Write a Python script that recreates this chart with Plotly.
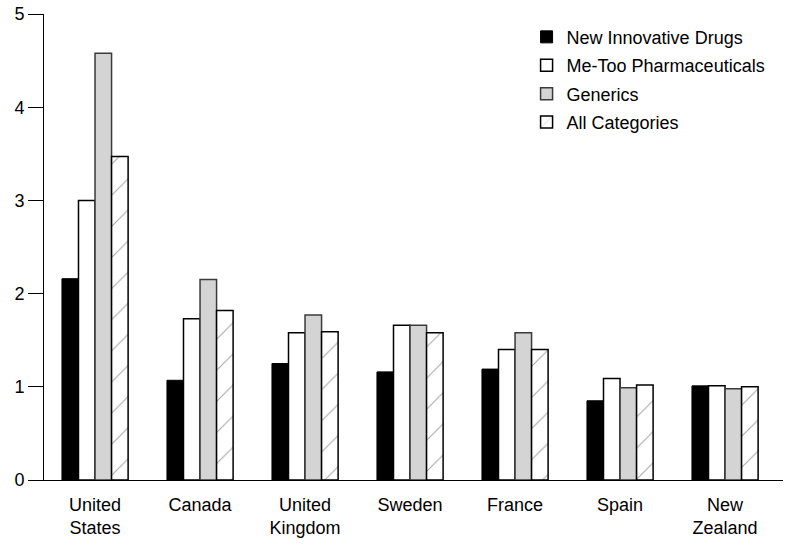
import plotly.graph_objects as go

# Countries along the x axis
countries = ["United<br>States", "Canada", "United<br>Kingdom", "Sweden",
             "France", "Spain", "New<br>Zealand"]

# Price index values per category
new_innovative = [2.16, 1.07, 1.25, 1.16, 1.19, 0.85, 1.01]
me_too = [3.00, 1.73, 1.58, 1.66, 1.40, 1.09, 1.01]
generics = [4.58, 2.15, 1.77, 1.66, 1.58, 0.99, 0.98]
all_categories = [3.47, 1.82, 1.59, 1.58, 1.40, 1.02, 1.00]

y_ticks = [0, 1, 2, 3, 4, 5]

font_family = "Liberation Sans, Arial, Helvetica, sans-serif"

fig = go.Figure()

fig.add_trace(go.Bar(
    x=countries, y=new_innovative, name="New Innovative Drugs",
    legendgroup="a",
    marker=dict(color="black", line=dict(color="black", width=1)),
))
fig.add_trace(go.Bar(
    x=countries, y=me_too, name="Me-Too Pharmaceuticals",
    legendgroup="b",
    marker=dict(color="white", line=dict(color="black", width=1.5)),
))
fig.add_trace(go.Bar(
    x=countries, y=generics, name="Generics",
    legendgroup="c",
    marker=dict(color="#d4d4d4", line=dict(color="#3a3a3a", width=1.5)),
))
fig.add_trace(go.Bar(
    x=countries, y=all_categories, name="All Categories",
    legendgroup="d",
    marker=dict(
        color="white",
        line=dict(color="black", width=1.5),
        pattern=dict(shape="/", size=22, solidity=0.05,
                     fgcolor="#555555", bgcolor="white"),
    ),
))

fig.update_layout(
    width=788, height=545,
    margin=dict(l=44, r=5, t=14, b=65),
    barmode="group",
    bargap=0.37,
    bargroupgap=0,
    plot_bgcolor="white",
    paper_bgcolor="white",
    font=dict(family=font_family, size=18, color="black"),
    showlegend=True,
    legend=dict(
        x=0.653, y=0.99, xanchor="left", yanchor="top",
        font=dict(size=18),
        traceorder="grouped",
        tracegroupgap=2,
        bgcolor="rgba(0,0,0,0)",
    ),
    xaxis=dict(
        range=[-0.486, 6.552],
        showline=True, linecolor="black", linewidth=1,
        ticks="", showgrid=False, zeroline=False,
        tickfont=dict(size=18),
        ticklabelstandoff=8,
    ),
    yaxis=dict(
        range=[0, 5],
        tickvals=y_ticks,
        showline=True, linecolor="black", linewidth=1,
        ticks="outside", ticklen=15, tickcolor="black", tickwidth=1,
        showgrid=False, zeroline=False,
        tickfont=dict(size=18),
    ),
)

# drop the default page margin so the figure sits at the window's corner
fig.write_html("out.html", config={"displayModeBar": False},
               post_script="document.body.style.margin='0';")
